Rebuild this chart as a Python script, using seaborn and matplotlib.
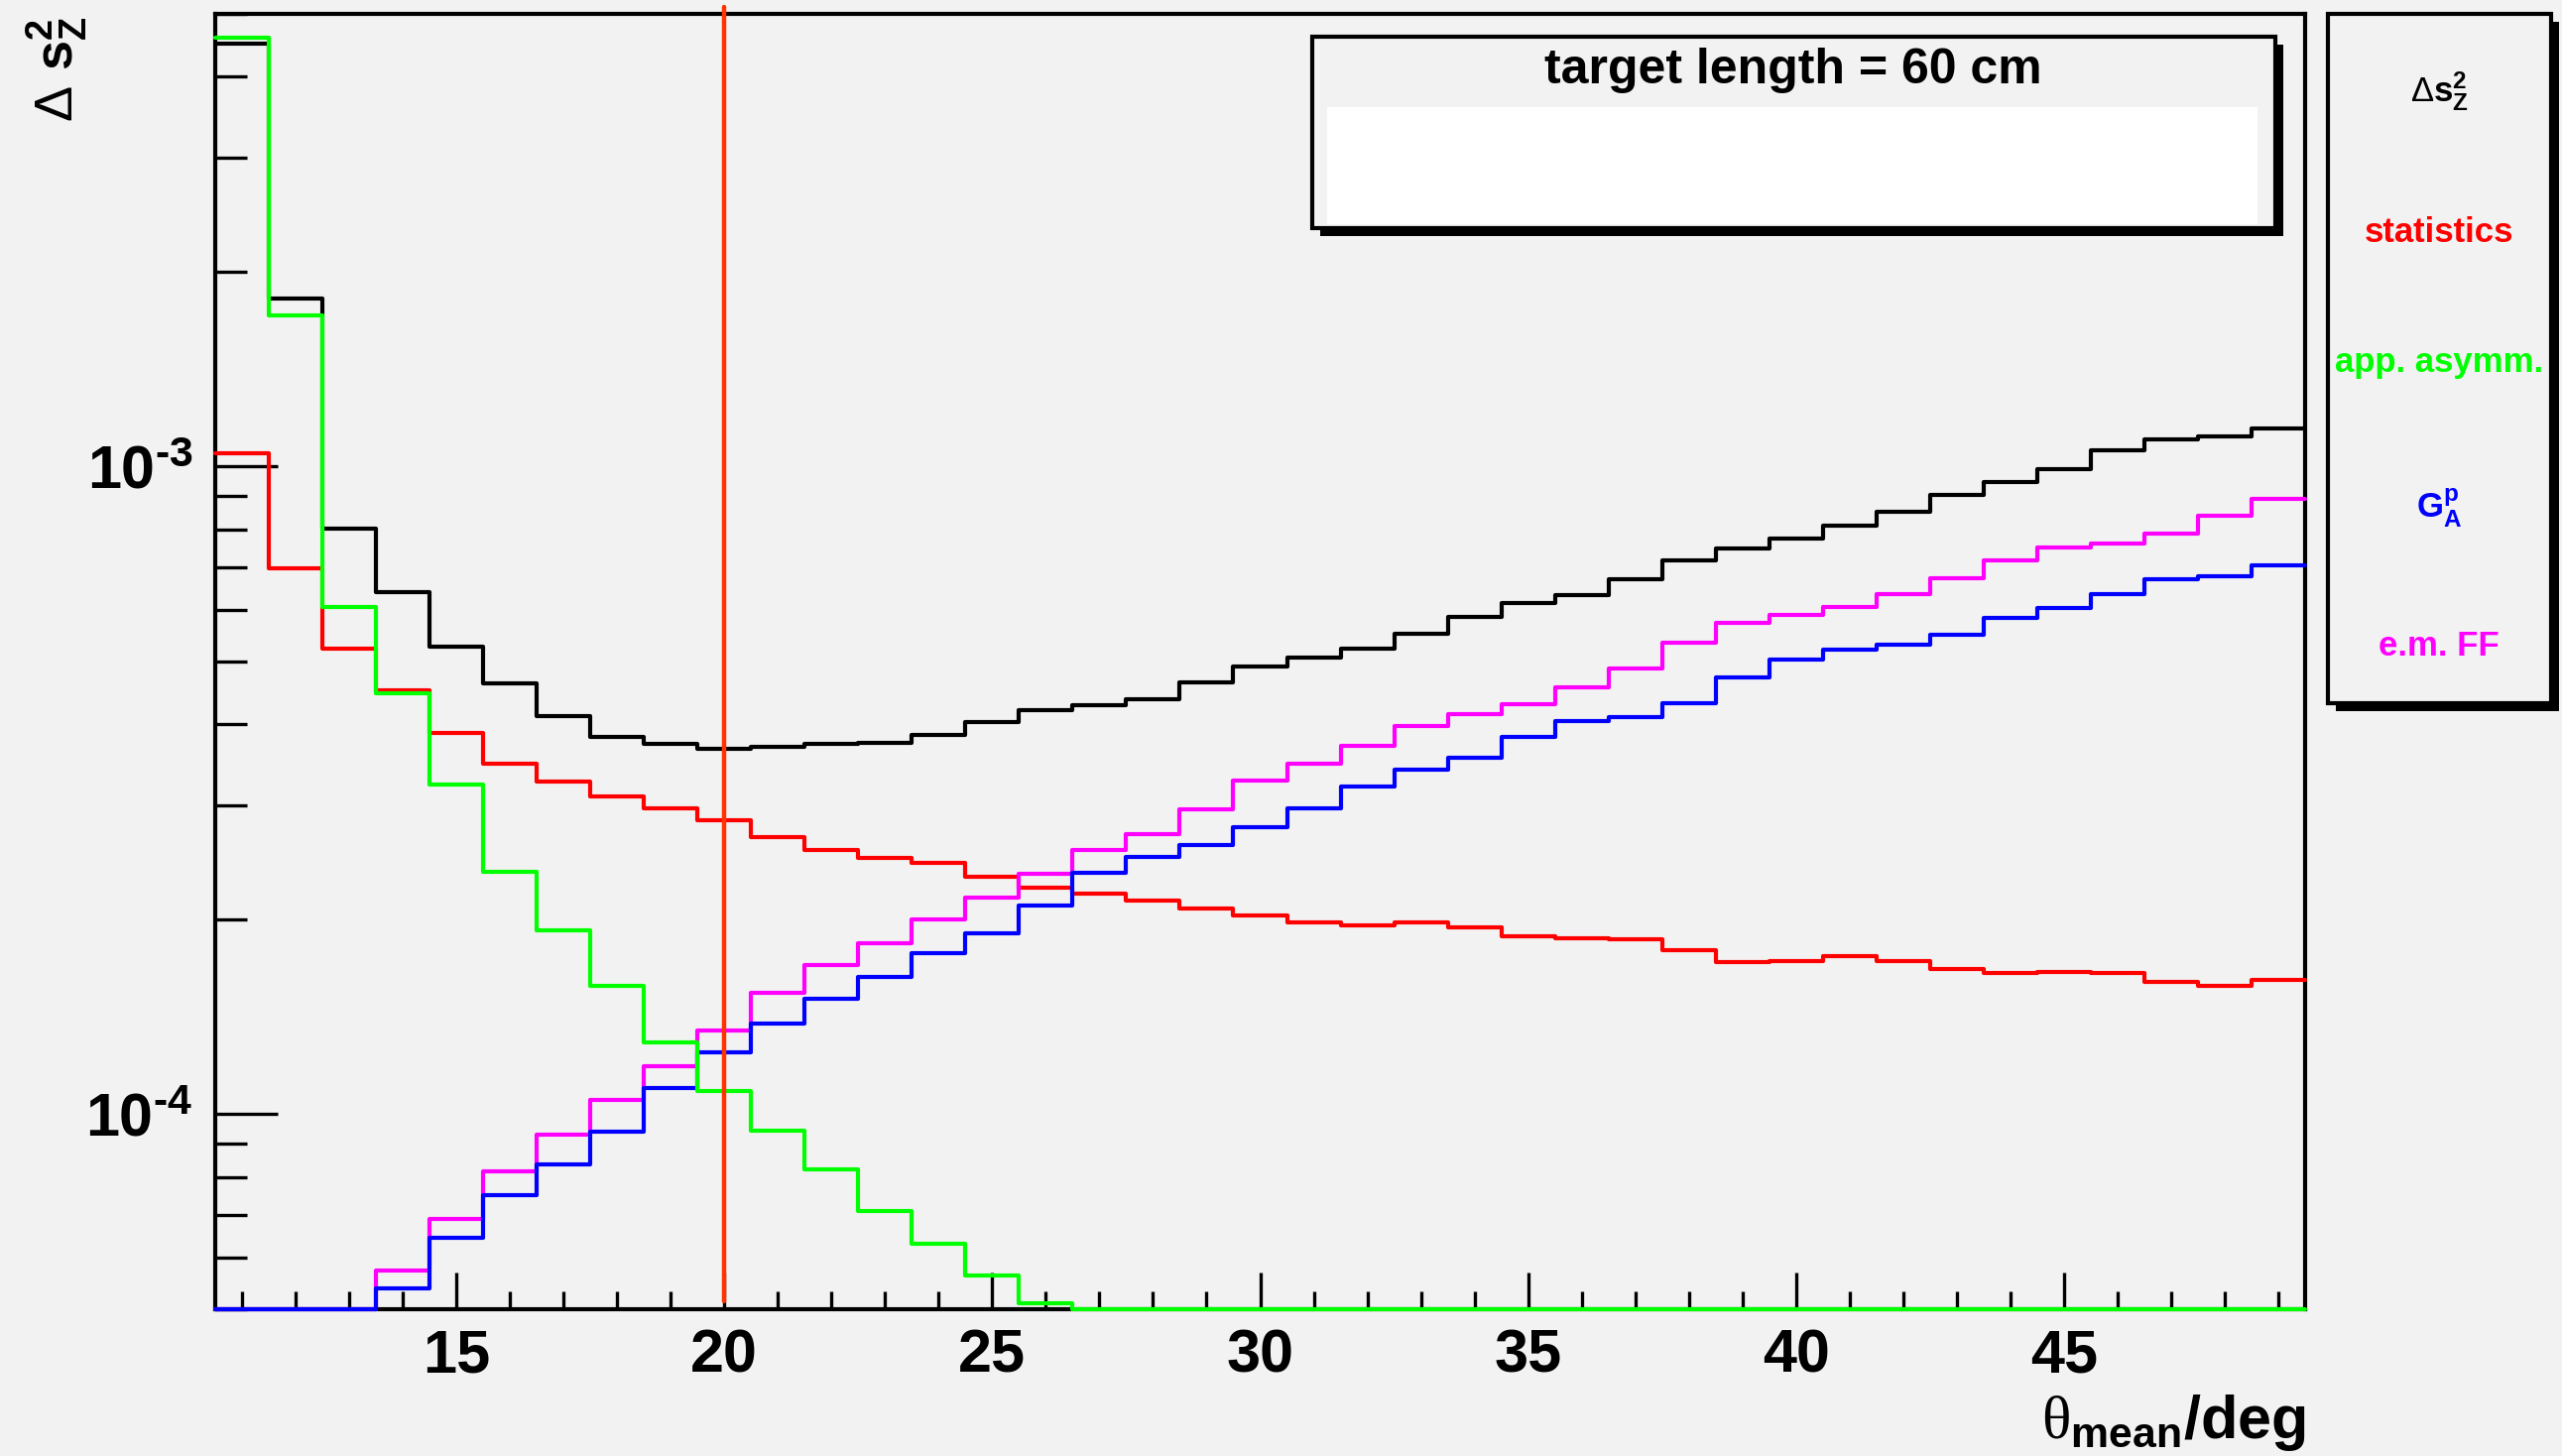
import numpy as np
import pandas as pd
import matplotlib.pyplot as plt
import seaborn as sns
from matplotlib.patches import Rectangle
from matplotlib.ticker import MultipleLocator, LogLocator, NullFormatter, FuncFormatter

# bins of 1 deg, centred on integer angles
theta = np.arange(11, 50)
edges = np.arange(10.5, 50.0, 1.0)

# (0 = below the drawn range)
total = [4.50e-3, 1.82e-3, 8.01e-4, 6.40e-4, 5.28e-4, 4.62e-4, 4.12e-4, 3.82e-4,
         3.73e-4, 3.67e-4, 3.69e-4, 3.73e-4, 3.74e-4, 3.85e-4, 4.03e-4, 4.21e-4,
         4.28e-4, 4.37e-4, 4.64e-4, 4.92e-4, 5.07e-4, 5.23e-4, 5.51e-4, 5.86e-4,
         6.15e-4, 6.34e-4, 6.70e-4, 7.17e-4, 7.48e-4, 7.73e-4, 8.11e-4, 8.52e-4,
         9.03e-4, 9.45e-4, 9.90e-4, 1.058e-3, 1.10e-3, 1.115e-3, 1.146e-3]
statistics = [1.05e-3, 6.97e-4, 5.23e-4, 4.51e-4, 3.88e-4, 3.48e-4, 3.26e-4, 3.09e-4,
              2.97e-4, 2.84e-4, 2.68e-4, 2.56e-4, 2.49e-4, 2.44e-4, 2.33e-4, 2.24e-4,
              2.19e-4, 2.14e-4, 2.08e-4, 2.03e-4, 1.98e-4, 1.96e-4, 1.98e-4, 1.94e-4,
              1.88e-4, 1.87e-4, 1.86e-4, 1.79e-4, 1.72e-4, 1.725e-4, 1.754e-4, 1.725e-4,
              1.673e-4, 1.65e-4, 1.66e-4, 1.65e-4, 1.60e-4, 1.58e-4, 1.61e-4]
app_asymm = [4.59e-3, 1.71e-3, 6.07e-4, 4.47e-4, 3.23e-4, 2.37e-4, 1.92e-4, 1.58e-4,
             1.29e-4, 1.085e-4, 9.44e-5, 8.21e-5, 7.09e-5, 6.30e-5, 5.63e-5, 5.11e-5,
             0, 0, 0, 0, 0, 0, 0, 0,
             0, 0, 0, 0, 0, 0, 0, 0,
             0, 0, 0, 0, 0, 0, 0]
ga_p = [0, 0, 0, 5.38e-5, 6.44e-5, 7.51e-5, 8.38e-5, 9.41e-5,
        1.099e-4, 1.248e-4, 1.38e-4, 1.506e-4, 1.63e-4, 1.775e-4, 1.90e-4, 2.10e-4,
        2.36e-4, 2.50e-4, 2.60e-4, 2.77e-4, 2.97e-4, 3.21e-4, 3.40e-4, 3.55e-4,
        3.82e-4, 4.05e-4, 4.11e-4, 4.31e-4, 4.72e-4, 5.03e-4, 5.21e-4, 5.30e-4,
        5.50e-4, 5.83e-4, 6.05e-4, 6.36e-4, 6.69e-4, 6.77e-4, 7.05e-4]
em_ff = [0, 0, 0, 5.73e-5, 6.90e-5, 8.15e-5, 9.29e-5, 1.053e-4,
         1.186e-4, 1.346e-4, 1.54e-4, 1.70e-4, 1.835e-4, 2.00e-4, 2.16e-4, 2.35e-4,
         2.56e-4, 2.71e-4, 2.96e-4, 3.27e-4, 3.48e-4, 3.70e-4, 3.98e-4, 4.15e-4,
         4.30e-4, 4.56e-4, 4.88e-4, 5.35e-4, 5.73e-4, 5.91e-4, 6.07e-4, 6.36e-4,
         6.72e-4, 7.17e-4, 7.51e-4, 7.61e-4, 7.89e-4, 8.41e-4, 8.93e-4]

theta_cut = 20
YMIN, YMAX = 5e-5, 5e-3

sns.set_theme(style="ticks")
plt.rcParams['font.family'] = ['Liberation Sans', 'DejaVu Sans']
plt.rcParams['font.weight'] = 'bold'
plt.rcParams['text.color'] = 'black'
plt.rcParams['xtick.color'] = 'black'
plt.rcParams['ytick.color'] = 'black'
plt.rcParams['mathtext.fontset'] = 'custom'
plt.rcParams['mathtext.rm'] = 'Liberation Sans:weight=bold'
plt.rcParams['mathtext.bf'] = 'Liberation Sans:weight=bold'
plt.rcParams['mathtext.it'] = 'Liberation Sans:weight=bold'
plt.rcParams['mathtext.tt'] = 'Liberation Sans:weight=normal'
plt.rcParams['mathtext.sf'] = 'Liberation Serif:weight=normal'
plt.rcParams['mathtext.default'] = 'bf'

BG = '#f2f2f2'
W, H = 2583, 1468
fig = plt.figure(figsize=(W / 100, H / 100), dpi=100, facecolor=BG)
ax = fig.add_axes([217 / W, 1 - 1320 / H, (2324 - 217) / W, (1320 - 14) / H], facecolor=BG)

series = [(total, 'black'), (statistics, '#ff0000'), (em_ff, '#ff00ff'),
          (ga_p, '#0000ff'), (app_asymm, '#00ff00')]
for vals, col in series:
    d = pd.DataFrame({'theta': theta, 'err': np.clip(vals, YMIN, None)})
    sns.histplot(data=d, x='theta', weights='err', binwidth=1,
                 binrange=(edges[0], edges[-1]), element='step',
                 fill=False, color=col, linewidth=3.0, ax=ax)
for ln in ax.lines:
    ln.set_clip_on(False)
    ln.set_zorder(3)

ax.set_yscale('log')
ax.set_xlim(edges[0], edges[-1])
ax.set_ylim(YMIN, YMAX)
ax.set_xlabel('')
ax.set_ylabel('')

# cut line, runs a bit past the frame like in the original
ax.axvline(theta_cut, ymin=0.006, ymax=1.005, color='#ff3300', lw=3.2, clip_on=False, zorder=6)

for s in ax.spines.values():
    s.set_color('black')
    s.set_linewidth(3.0)
    s.set_visible(True)


def pow10(v, pos):
    e = int(round(np.log10(v)))
    return r'$\mathbf{10}^{\text{%d}}$' % e


ax.xaxis.set_major_locator(MultipleLocator(5))
ax.xaxis.set_minor_locator(MultipleLocator(1))
ax.yaxis.set_major_locator(LogLocator(base=10, subs=(1.0,)))
ax.yaxis.set_major_formatter(FuncFormatter(pow10))
ax.yaxis.set_minor_locator(LogLocator(base=10, subs=np.arange(2, 10)))
ax.yaxis.set_minor_formatter(NullFormatter())
ax.tick_params(axis='x', which='major', direction='in', length=27, width=2.4,
               labelsize=44, pad=14, top=False, bottom=True)
ax.tick_params(axis='x', which='minor', direction='in', length=13, width=2.4,
               top=False, bottom=True)
ax.tick_params(axis='y', which='major', direction='in', length=45, width=2.4,
               labelsize=44, pad=16, right=False, left=True)
ax.tick_params(axis='y', which='minor', direction='in', length=23, width=2.4,
               right=False, left=True)


def px_rect(x0, y0, x1, y1, **kw):
    return Rectangle((x0 / W, 1 - y1 / H), (x1 - x0) / W, (y1 - y0) / H,
                     transform=fig.transFigure, **kw)


def shadow_box(x0, y0, x1, y1):
    fig.patches.append(px_rect(x0 + 8, y0 + 8, x1 + 8, y1 + 8, facecolor='black',
                               edgecolor='none', zorder=10))
    fig.patches.append(px_rect(x0, y0, x1, y1, facecolor=BG, edgecolor='black',
                               lw=3.0, zorder=11))


# title box
shadow_box(1323, 37, 2294, 230)
fig.patches.append(px_rect(1338, 108, 2276, 226, facecolor='white', edgecolor='none', zorder=12))
fig.text(1808 / W, 1 - 71 / H, 'target length = 60 cm', ha='center', va='center',
         fontsize=36, fontweight='bold', zorder=13)

# legend box
shadow_box(2347, 14, 2572, 709)
legend_items = [(r'$\mathtt{\Delta}\mathbf{s^{2}_{Z}}$', 'black', 92),
                ('statistics', '#ff0000', 234),
                ('app. asymm.', '#00ff00', 366),
                (r'$\mathbf{G^{p}_{A}}$', '#0000ff', 512),
                ('e.m. FF', '#ff00ff', 651)]
for txt, col, yy in legend_items:
    fig.text(2459 / W, 1 - yy / H, txt, color=col, ha='center', va='center',
             fontsize=25, fontweight='bold', zorder=13)

# axis titles
fig.text(57 / W, 1 - 16 / H, r'$\mathtt{\Delta}\ \mathbf{s^{2}_{Z}}$', rotation=90,
         ha='center', va='top', fontsize=39)
fig.text(2325 / W, 1 - 1450 / H, r'$\mathsf{\theta}_{\mathbf{mean}}\mathbf{/deg}$',
         ha='right', va='baseline', fontsize=44)

fig.savefig('out.png', dpi=100, facecolor=BG)
